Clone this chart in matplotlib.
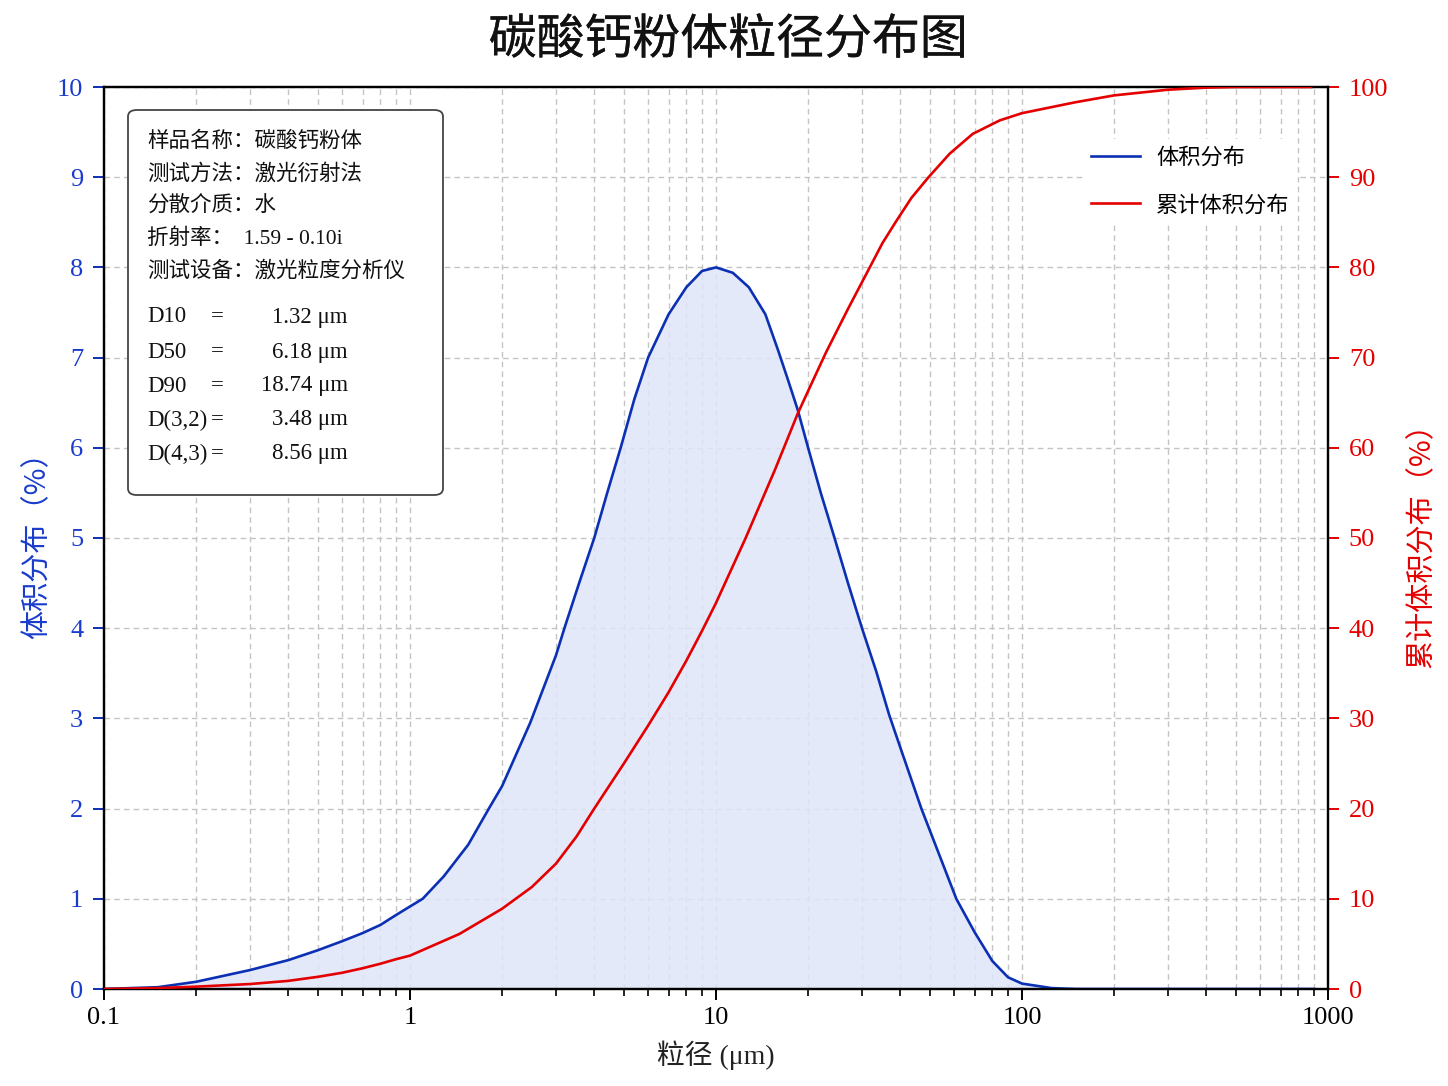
import matplotlib
matplotlib.use('Agg')
import matplotlib.pyplot as plt
import matplotlib.patheffects as pe
from matplotlib.patches import FancyBboxPatch
from matplotlib.ticker import FixedLocator, LogLocator, NullFormatter
import numpy as np

# 体积分布 (%) 读图值
size_um = [0.1, 0.15, 0.2, 0.3, 0.4, 0.5, 0.6, 0.7, 0.8, 0.9, 1.0, 1.1, 1.29, 1.55,
           1.81, 2.0, 2.47, 3.0, 3.21, 3.57, 4.0, 4.41, 4.88, 5.41, 6.0, 7.0, 8.0,
           9.0, 10.0, 11.35, 12.8, 14.5, 15.96, 17.2, 18.5, 20.0, 22.0, 24.4, 27.0,
           30.0, 33.4, 36.8, 40.0, 46.9, 61.0, 70.0, 80.0, 90.0, 100.0, 125.0, 150.0,
           300.0, 900.0]
vol_pct = [0.0, 0.02, 0.08, 0.21, 0.32, 0.43, 0.53, 0.62, 0.71, 0.82, 0.915, 1.0, 1.25, 1.6,
           2.0, 2.25, 2.95, 3.7, 4.02, 4.5, 5.0, 5.5, 6.0, 6.54, 7.0, 7.48, 7.78,
           7.96, 8.0, 7.94, 7.78, 7.48, 7.08, 6.75, 6.42, 6.0, 5.5, 5.0, 4.5,
           4.0, 3.52, 3.04, 2.68, 2.0, 1.0, 0.63, 0.31, 0.13, 0.06, 0.01, 0.0,
           0.0, 0.0]

# 累计体积分布 (%)
cum_size_um = [0.1, 0.15, 0.2, 0.3, 0.4, 0.5, 0.6, 0.7, 0.8, 0.9, 1.0, 1.45, 2.0, 2.5,
               3.0, 3.5, 4.0, 5.0, 6.0, 7.0, 8.0, 9.0, 10.0, 12.5, 15.6, 18.5, 20.0,
               22.9, 27.0, 31.8, 35.0, 38.6, 43.5, 49.5, 58.0, 69.0, 84.6, 100.0, 149.0,
               200.0, 300.0, 400.0, 500.0, 880.0]
cum_pct = [0.0, 0.1, 0.26, 0.55, 0.9, 1.35, 1.8, 2.3, 2.8, 3.3, 3.7, 6.1, 8.9, 11.3,
           13.9, 16.9, 20.0, 25.0, 29.2, 32.9, 36.4, 39.7, 42.8, 50.0, 57.6, 63.8, 66.3,
           70.6, 75.4, 80.0, 82.7, 85.0, 87.7, 90.0, 92.6, 94.8, 96.3, 97.1, 98.3,
           99.07, 99.7, 99.93, 100.0, 100.0]

info_lines = ['样品名称：碳酸钙粉体', '测试方法：激光衍射法', '分散介质：水',
              '折射率：  1.59 - 0.10i', '测试设备：激光粒度分析仪']
d_names = ['D10', 'D50', 'D90', 'D(3,2)', 'D(4,3)']
d_values = ['1.32', '6.18', '18.74', '3.48', '8.56']

x_ticks = [0.1, 1, 10, 100, 1000]
x_ticklabels = ['0.1', '1', '10', '100', '1000']

BLUE = '#0c30b4'
BLUE_TXT = '#1a3ccc'
RED = '#e40000'
CJK = ['Liberation Serif', 'Noto Sans CJK SC', 'DejaVu Sans']
SANS = ['Noto Sans CJK SC', 'DejaVu Sans']

plt.rcParams['font.family'] = CJK
plt.rcParams['axes.unicode_minus'] = False

W, H = 1448, 1086
fig = plt.figure(figsize=(W / 100, H / 100), dpi=100)
ax = fig.add_axes([104 / W, 1 - 989 / H, (1328 - 104) / W, (989 - 87) / H])
ax2 = ax.twinx()

ax.fill_between(size_um, vol_pct, 0, color='#dfe6f8', alpha=0.85, lw=0, zorder=1)
l1, = ax.plot(size_um, vol_pct, color=BLUE, lw=1.9, zorder=3, label='体积分布',
              solid_joinstyle='round')
l2, = ax2.plot(cum_size_um, cum_pct, color=RED, lw=1.9, zorder=3, label='累计体积分布',
               solid_joinstyle='round')

ax.set_xscale('log')
ax.set_xlim(0.1, 1000)
ax.set_ylim(0, 10)
ax2.set_ylim(0, 100)

ax.xaxis.set_major_locator(FixedLocator(x_ticks))
ax.set_xticklabels(x_ticklabels)
ax.xaxis.set_minor_locator(LogLocator(base=10, subs=np.arange(2, 10), numticks=20))
ax.xaxis.set_minor_formatter(NullFormatter())
ax.set_yticks(np.arange(0, 11, 1))
ax2.set_yticks(np.arange(0, 101, 10))

ax.grid(True, which='major', axis='both', color='#c4c4c4', ls=(0, (4, 3)), lw=1)
ax.grid(True, which='minor', axis='x', color='#c4c4c4', ls=(0, (4, 3)), lw=1)
ax.set_axisbelow(True)

for a in (ax, ax2):
    for s in a.spines.values():
        s.set_linewidth(1.6)
        s.set_color('black')

ax.tick_params(axis='x', which='major', direction='out', length=8, width=1.4,
               labelsize=19, pad=5, colors='black')
ax.tick_params(axis='x', which='minor', direction='out', length=5, width=1.2)
ax.tick_params(axis='y', direction='out', length=8, width=1.4, labelsize=19,
               pad=7, color=BLUE, labelcolor=BLUE_TXT)
ax2.tick_params(axis='y', direction='out', length=8, width=1.4, labelsize=19,
                pad=7, color=RED, labelcolor=RED)

ax.set_xlabel('粒径 (μm)', fontsize=20, labelpad=8, color='#222222')
ax.set_ylabel('体积分布（%）', fontsize=21, color=BLUE_TXT, labelpad=3, family=SANS)
ax2.set_ylabel('累计体积分布（%）', fontsize=21, color=RED, labelpad=13,
               family=SANS, rotation=90)

fig.text(728 / W, 1 - 40 / H, '碳酸钙粉体粒径分布图', fontsize=34.5, ha='center',
         va='center', family=SANS, fontweight='medium', color='#111111',
         path_effects=[pe.withStroke(linewidth=0.2, foreground='#111111')])

leg = ax2.legend(handles=[l1, l2], loc='upper left',
                 bbox_to_anchor=(1073 / W, 1 - 128 / H), bbox_transform=fig.transFigure,
                 prop={'family': SANS, 'size': 16}, frameon=True, facecolor='white',
                 edgecolor='none', framealpha=1, labelspacing=1.1, handlelength=2.2,
                 handletextpad=0.75, borderpad=0.3)
leg.set_zorder(5)

box = FancyBboxPatch((128 / W, 1 - 495 / H), (443 - 128) / W, (495 - 110) / H,
                     boxstyle='round,pad=0,rounding_size=0.006', transform=fig.transFigure,
                     facecolor='white', edgecolor='#444444', lw=1.3, zorder=6)
ax2.add_patch(box)
box.set_clip_on(False)

info_y = [142, 174, 206, 239, 271]
for txt, yy in zip(info_lines, info_y):
    ax2.text(147 / W, 1 - yy / H, txt, transform=fig.transFigure, fontsize=15.5,
             va='center', ha='left', color='#111111', zorder=7)

d_y = [317, 352, 386, 420, 454]
for name, val, yy in zip(d_names, d_values, d_y):
    ax2.text(147 / W, 1 - yy / H, name, transform=fig.transFigure, fontsize=16.5,
             va='center', ha='left', color='#111111', zorder=7)
    ax2.text(217 / W, 1 - yy / H, '=', transform=fig.transFigure, fontsize=16.5,
             va='center', ha='center', color='#111111', zorder=7)
    ax2.text(348 / W, 1 - yy / H, val + ' μm', transform=fig.transFigure, fontsize=16.5,
             va='center', ha='right', color='#111111', zorder=7)

fig.savefig('out.png', dpi=100, facecolor='white')
